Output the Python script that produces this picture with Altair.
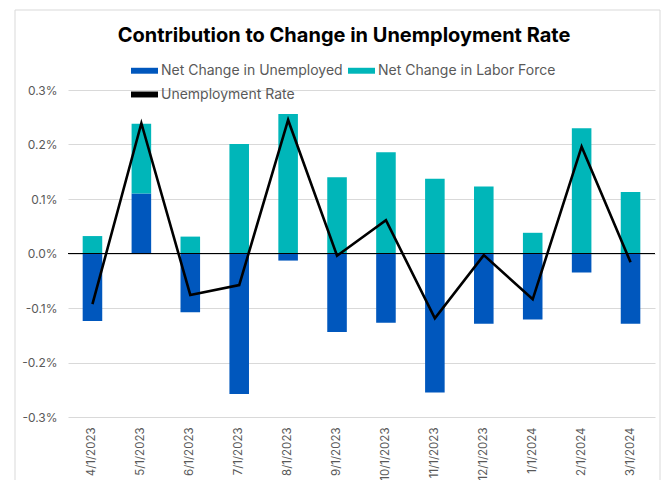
import altair as alt
import pandas as pd

months = ["4/1/2023", "5/1/2023", "6/1/2023", "7/1/2023", "8/1/2023", "9/1/2023",
          "10/1/2023", "11/1/2023", "12/1/2023", "1/1/2024", "2/1/2024", "3/1/2024"]
unemployed = [-0.124, 0.110, -0.108, -0.258, -0.013, -0.144, -0.127, -0.255, -0.129, -0.121, -0.035, -0.129]
labor_force = [0.032, 0.128, 0.031, 0.201, 0.256, 0.140, 0.186, 0.137, 0.123, 0.038, 0.230, 0.113]
unemp_rate = [-0.093, 0.239, -0.076, -0.058, 0.245, -0.004, 0.061, -0.119, -0.003, -0.084, 0.196, -0.016]

series_names = ["Net Change in Unemployed", "Net Change in Labor Force", "Unemployment Rate"]
series_colors = ["#0057BD", "#00B6B9", "#000000"]
y_ticks = [-0.3, -0.2, -0.1, 0.0, 0.1, 0.2, 0.3]

rows = []
for i, m in enumerate(months):
    rows.append({"month": m, "series": series_names[0], "value": unemployed[i], "k": 0})
    rows.append({"month": m, "series": series_names[1], "value": labor_force[i], "k": 1})
bars_df = pd.DataFrame(rows)
line_df = pd.DataFrame({"month": months, "series": series_names[2], "value": unemp_rate})

FONT = "Inter"
GRAY = "#595959"

x_enc = alt.X("month:N", sort=months,
              scale=alt.Scale(paddingInner=0.6, paddingOuter=0.3),
              axis=alt.Axis(title=None, labelAngle=-90, ticks=False, domain=False,
                            labelPadding=10, labelFontSize=11.5, labelColor=GRAY,
                            labelFont=FONT))
y_scale = alt.Scale(domain=[-0.3, 0.3], nice=False, zero=False)
color_scale = alt.Scale(domain=series_names, range=series_colors)

border = alt.Chart(pd.DataFrame({"b": [0]})).mark_rect(
    filled=False, stroke="#d9d9d9", strokeWidth=1
).encode(x=alt.value(-53), x2=alt.value(592), y=alt.value(-80), y2=alt.value(400))

bars = alt.Chart(bars_df).mark_bar().encode(
    x=x_enc,
    y=alt.Y("value:Q", stack="zero", scale=y_scale,
            axis=alt.Axis(title=None, values=y_ticks,
                          labelExpr="replace(format(datum.value, '.1f'), '\u2212', '-') + '%'",
                          grid=True, gridColor="#d9d9d9", gridWidth=1, domain=False,
                          ticks=False, labelPadding=11, labelFontSize=12,
                          labelColor=GRAY, labelFont=FONT)),
    color=alt.Color("series:N", scale=color_scale,
                    legend=alt.Legend(title=None, orient="none", legendX=63, legendY=-33,
                                      columns=2, direction="horizontal",
                                      symbolType="M-1,-0.22L1,-0.22L1,0.22L-1,0.22Z",
                                      symbolSize=729, symbolStrokeWidth=0,
                                      labelFont=FONT, labelFontSize=14, labelColor=GRAY,
                                      labelLimit=400,
                                      labelOffset=3, columnPadding=5, rowPadding=3)),
    order=alt.Order("k:Q"),
)

zero = alt.Chart(pd.DataFrame({"z": [0.0]})).mark_rule(color="black", strokeWidth=1.2).encode(
    y=alt.Y("z:Q", scale=y_scale)
)

line = alt.Chart(line_df).mark_line(strokeWidth=2.6).encode(
    x=alt.X("month:N", sort=months),
    y=alt.Y("value:Q", scale=y_scale),
    color=alt.Color("series:N", scale=color_scale, legend=None),
)

chart = alt.layer(border, bars, zero, line).properties(
    width=587, height=327,
    autosize=alt.AutoSizeParams(type="none"),
    padding={"left": 68, "top": 90, "right": 15, "bottom": 63},
    title=alt.Title("Contribution to Change in Unemployment Rate", fontSize=20,
                    font=FONT, fontWeight="bold", color="#000000", anchor="middle",
                    dx=-17.5, offset=-36),
).configure_view(strokeWidth=0)

chart.save("out.html", embed_options={"renderer": "svg", "actions": False})
